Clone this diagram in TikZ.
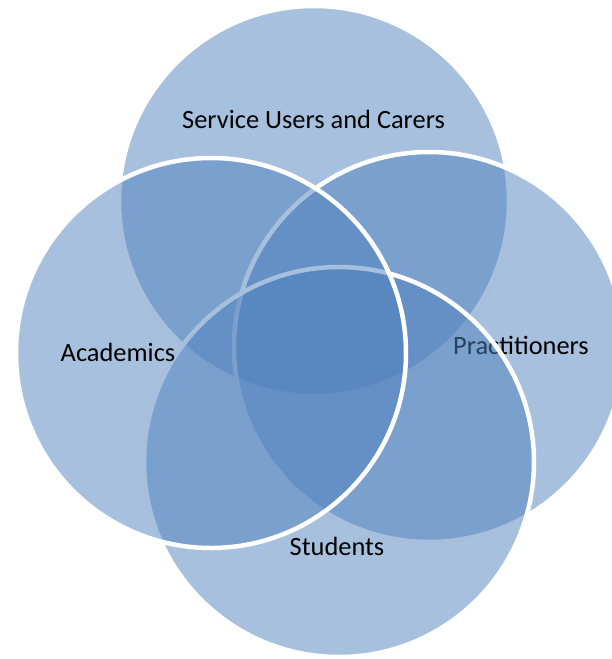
\documentclass[tikz,border=0pt]{standalone}
\usepackage{fontspec}
\setmainfont{Carlito}
\definecolor{vennblue}{HTML}{4F81BD}
\tikzset{
	venn/.style={draw=white, circle, line width=4.5pt, fill=vennblue,
		fill opacity=0.5, inner sep=0pt, minimum size=390pt},
	setname/.style={anchor=base, text=black, text opacity=1,
		font=\fontsize{26.4}{31}\selectfont},
}
\begin{document}
\begin{tikzpicture}[x=1pt, y=-1pt]
	\useasboundingbox (0,0) rectangle (612,659);

	\node[venn] (c0) at (314,201) {};
	\node[setname] (t0) at (313.5,128) {Service Users and Carers};

	\node[venn] (c1) at (429,347) {};
	\node[setname] (t1) at (521,354) {Practitioners};

	\node[venn] (c2) at (339,462) {};
	\node[setname] (t2) at (337,555) {Students};

	\node[venn] (c3) at (211,353) {};
	\node[setname] (t3) at (118,361.5) {Academics};
\end{tikzpicture}
\end{document}
